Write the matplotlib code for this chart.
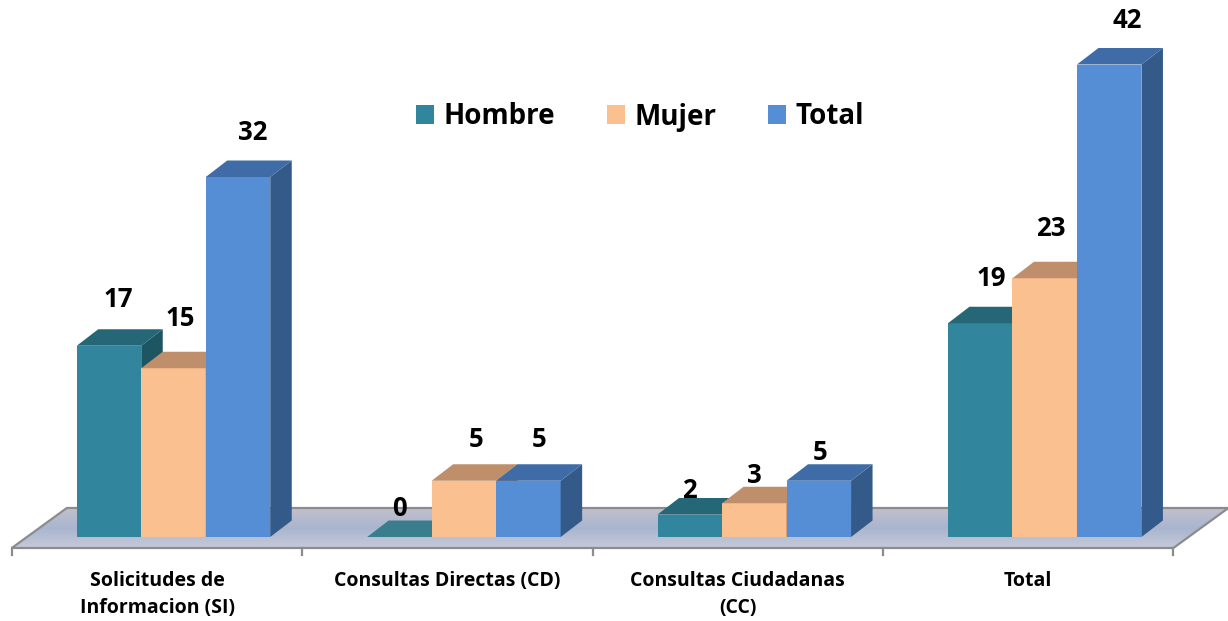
import matplotlib
matplotlib.use('Agg')
import matplotlib.pyplot as plt
import numpy as np
from matplotlib.patches import Polygon, Rectangle
from matplotlib.colors import LinearSegmentedColormap

# ---------------- data ----------------
categories = ['Solicitudes de\nInformacion (SI)', 'Consultas Directas (CD)',
              'Consultas Ciudadanas\n(CC)', 'Total']
series_names = ['Hombre', 'Mujer', 'Total']
hombre = [17, 0, 2, 19]
mujer = [15, 5, 3, 23]
total = [32, 5, 5, 42]

# ---------------- style ----------------
front_colors = ['#31859C', '#FAC090', '#558ED5']
top_colors = ['#256777', '#BF8F6B', '#3F6CA6']
side_colors = ['#1E5563', '#A87D5C', '#345A8A']
# label offsets (pixels) relative to front-top centre of each bar
label_dx = [[9, 7, 15], [0, 12, 11], [0, 0, 1], [11, 6, 18]]
label_dy = [[46, 50, 44], [29, 41, 41], [24, 28, 28], [45, 50, 44]]

FONT = 'Open Sans'
W, H = 1228, 621
PX_X = 290.4      # pixels per category
PX_Y = 11.25      # pixels per value unit
X0 = 157          # category 0 centre (front plane), px from left
Y0 = 537          # bar baseline, px from top

fig = plt.figure(figsize=(W / 100, H / 100), dpi=100)
ax = fig.add_axes([0, 0, 1, 1])
ax.set_xlim(-X0 / PX_X, (W - X0) / PX_X)
ax.set_ylim(-(H - Y0) / PX_Y, Y0 / PX_Y)
ax.axis('off')


def dx(px):
    return px / PX_X


def dy(px):
    return px / PX_Y


n = len(categories)
# ---------------- floor ----------------
fl_front = dy(-11)
fl_back = dy(29)
fl_dx = dx(55)
xl, xr = -0.5, n - 0.5
floor = Polygon([(xl, fl_front), (xr, fl_front), (xr + fl_dx, fl_back), (xl + fl_dx, fl_back)],
                closed=True, facecolor='none', edgecolor='#8C8C8C', lw=1.6, zorder=2)
ax.add_patch(floor)
cmap = LinearSegmentedColormap.from_list('fl', ['#C6CAD9', '#A9B5CF', '#C2C0CC'])
grad = np.linspace(0, 1, 100).reshape(-1, 1)
im = ax.imshow(grad, extent=(xl, xr + fl_dx, fl_front, fl_back), origin='lower',
               cmap=cmap, aspect='auto', zorder=1)
im.set_clip_path(floor)
for b in range(n + 1):
    xb = b - 0.5
    ax.plot([xb, xb], [fl_front, fl_front - dy(7)], color='#8C8C8C', lw=1.6, zorder=2)

# ---------------- bars ----------------
bw = dx(64.5)
bdx = dx(21.5)
bdy = dy(16.5)
group_shift = dx(16.5)
values = [hombre, mujer, total]
for i in range(n):
    for j in range(3):
        v = values[j][i]
        left = i + group_shift - 1.5 * bw + j * bw
        z = 3 + i * 10 + j * 3
        if v > 0:
            ax.bar(left, v, width=bw, align='edge', color=front_colors[j],
                   edgecolor='none', zorder=z)
            side = Polygon([(left + bw, 0), (left + bw + bdx, bdy),
                            (left + bw + bdx, v + bdy), (left + bw, v)],
                           closed=True, facecolor=side_colors[j], edgecolor='none', zorder=z)
            ax.add_patch(side)
            top_color = top_colors[j]
        else:
            top_color = '#3A7E8E'
        top = Polygon([(left, v), (left + bw, v), (left + bw + bdx, v + bdy), (left + bdx, v + bdy)],
                      closed=True, facecolor=top_color, edgecolor='none', zorder=z + 1)
        ax.add_patch(top)
        ax.annotate(str(v), xy=(left + bw / 2, v), xytext=(label_dx[i][j], label_dy[i][j]),
                    textcoords='offset pixels', ha='center', va='center',
                    fontsize=18.5, fontweight='bold', family=FONT, color='black', zorder=100)

# ---------------- category labels ----------------
for i, c in enumerate(categories):
    ax.text(i, fl_front - dy(23), c, ha='center', va='top', fontsize=14,
            fontweight='bold', family=FONT, linespacing=1.48, zorder=100)

# ---------------- legend ----------------
handles = [Rectangle((0, 0), 1, 1, facecolor=c, edgecolor='none') for c in front_colors]
ax.legend(handles, series_names, loc='center', bbox_to_anchor=(640 / W, 1 - 117 / H),
          ncol=3, frameon=False, handlelength=0.65, handleheight=0.65,
          handletextpad=0.35, columnspacing=1.85,
          prop={'family': FONT, 'weight': 'bold', 'size': 20})

fig.savefig('out.png', dpi=100)
